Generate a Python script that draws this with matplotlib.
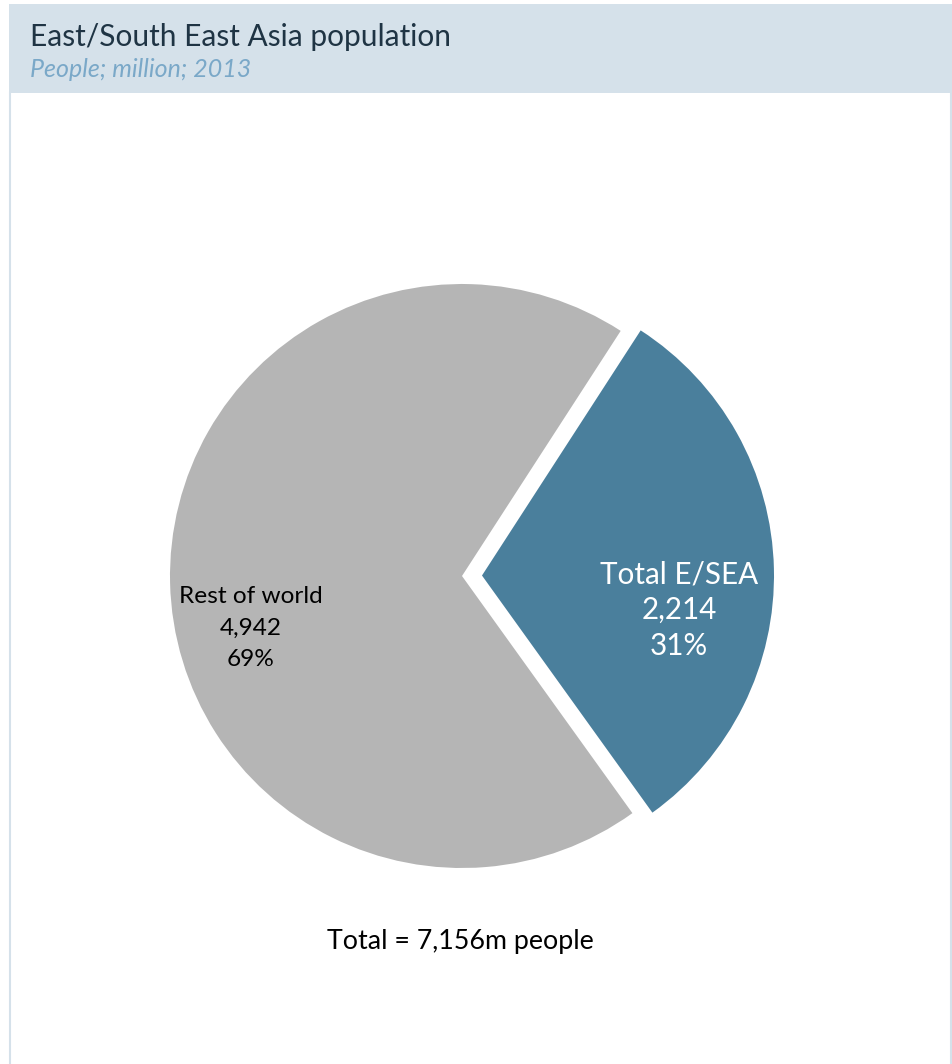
#!/usr/bin/env python3
"""East/South East Asia population pie chart"""

import matplotlib
matplotlib.use('Agg')
import matplotlib.pyplot as plt
from matplotlib.patches import Rectangle

plt.rcParams['font.family'] = ['Lato', 'DejaVu Sans']

# Data
labels = ['Total E/SEA', 'Rest of world']
values = [2214, 4942]
total = sum(values)
colors = ['#4a7f9c', '#b5b5b5']
text_colors = ['white', 'black']

W, H = 953, 1064
fig = plt.figure(figsize=(W / 100, H / 100), dpi=100)
ax = fig.add_axes([0, 0, 1, 1])

# Pie (pixel coordinates, y measured from bottom); explode is in data units here
cx, cy, r = 462, H - 576, 292
wedges, _ = ax.pie(values, colors=colors, startangle=-54.3, counterclock=True,
                   explode=[20, 0], radius=r, center=(cx, cy),
                   wedgeprops=dict(linewidth=0))

ax.set_xlim(0, W)
ax.set_ylim(0, H)
ax.set_aspect('equal')
ax.axis('off')

# Header band and frame
ax.add_patch(Rectangle((9, H - 93), W - 9, 89, facecolor='#d5e1ea',
                       edgecolor='none', zorder=0))
ax.plot([10.5, 10.5], [0, H - 93], color='#d5e1ea', lw=1.5)
ax.plot([951, 951], [0, H - 93], color='#d5e1ea', lw=1.5)

ax.text(30, H - 37, 'East/South East Asia population', fontsize=21.5,
        color='#1f3444', ha='left', va='center')
ax.text(30, H - 69, 'People; million; 2013', fontsize=18, style='italic',
        color='#7aa8c8', ha='left', va='center')

# Slice labels
label_pos = [(679, 610), (251, 628)]
label_size = [21.3, 17.6]
label_gap = [36, 31.5]
for lab, val, (lx, ly), fs, gap, tc in zip(labels, values, label_pos,
                                           label_size, label_gap, text_colors):
    pct = round(100 * val / total)
    ax.text(lx, H - ly + gap, lab, ha='center', va='center', fontsize=fs, color=tc)
    ax.text(lx, H - ly, f'{val:,}', ha='center', va='center', fontsize=fs, color=tc)
    ax.text(lx, H - ly - gap, f'{pct}%', ha='center', va='center', fontsize=fs, color=tc)

ax.text(460, H - 941, f'Total = {total:,}m people', ha='center', va='center',
        fontsize=19.3, color='black')

plt.savefig('out.png', dpi=100, facecolor='white')
plt.close()
